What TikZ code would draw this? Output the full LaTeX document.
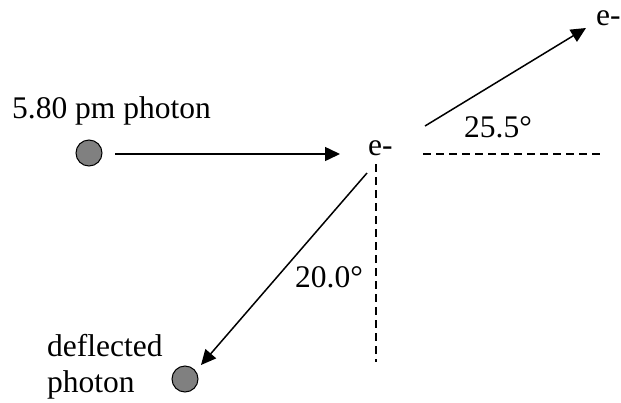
\documentclass[tikz,border=0pt]{standalone}
\usepackage{fontspec}
\setmainfont{Liberation Serif}
\usetikzlibrary{arrows.meta}
\begin{document}
\begin{tikzpicture}[x=1pt,y=-1pt,
  lbl/.style={anchor=base west,inner sep=0pt,font=\fontsize{31.5}{38}\selectfont},
  particle/.style={circle,draw=black,line width=1pt,fill=black!50,minimum size=26pt,inner sep=0pt},
  ray/.style={line width=1.5pt,-{Triangle[length=15pt,width=14pt]}},
  guide/.style={line width=1.3pt,dash pattern=on 8pt off 5pt}]
\useasboundingbox (0,0) rectangle (621,402);
% texts
\node[lbl] (inlbl) at (12,118) {5.80 pm photon};
\node[lbl] (ecenter) at (368,155) {e-};
\node[lbl] (eout) at (596,25) {e-};
\node[lbl] (ang1) at (464,137) {25.5°};
\node[lbl] (ang2) at (295,287) {20.0°};
\node[lbl] (deflA) at (47,356) {deflected};
\node[lbl] (deflB) at (47,392) {photon};
% particles
\node[particle] (pin) at (89,153) {};
\node[particle] (pout) at (185,379) {};
% connector endpoints
\coordinate (a1s) at (115,154);
\coordinate (a1e) at (340,154);
\coordinate (a2s) at (425,126);
\coordinate (a2e) at (586,28);
\coordinate (a3s) at (367,173);
\coordinate (a3e) at (201,365);
\coordinate (h1) at (423,154);
\coordinate (h2) at (600,154);
\coordinate (v1) at (376,164);
\coordinate (v2) at (376,362);
% arrows
\draw[ray] (a1s) -- (a1e);
\draw[ray] (a2s) -- (a2e);
\draw[ray] (a3s) -- (a3e);
% guides
\draw[guide] (h1) -- (h2);
\draw[guide] (v1) -- (v2);
\end{tikzpicture}
\end{document}
